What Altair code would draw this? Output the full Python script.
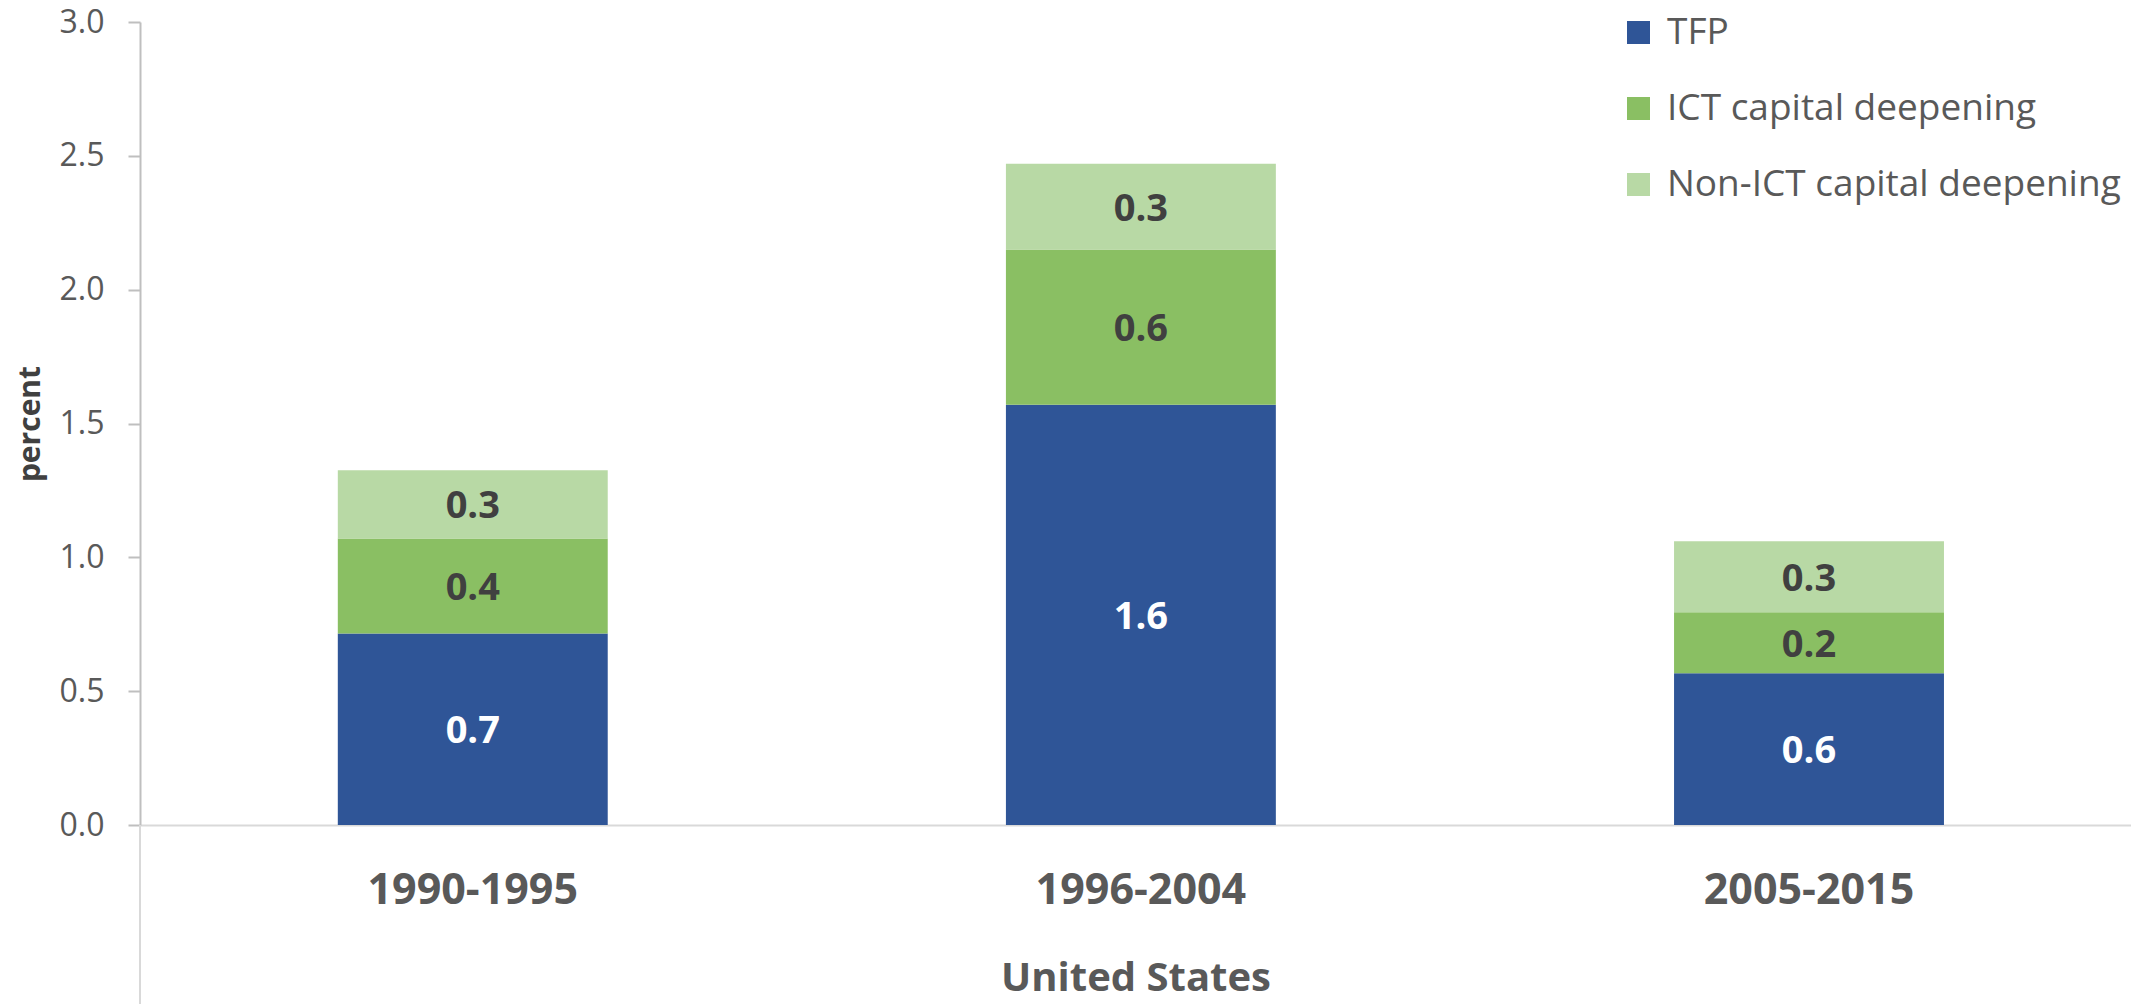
import altair as alt
import pandas as pd

periods = ["1990-1995", "1996-2004", "2005-2015"]
components = ["TFP", "ICT capital deepening", "Non-ICT capital deepening"]
colors = ["#2F5597", "#8ABF63", "#B8D9A5"]
tfp = [0.715, 1.57, 0.567]
ict = [0.355, 0.58, 0.228]
non_ict = [0.255, 0.32, 0.265]
y_ticks = [0.0, 0.5, 1.0, 1.5, 2.0, 2.5, 3.0]

rows = []
for i, p in enumerate(periods):
    for k, (c, vals) in enumerate(zip(components, [tfp, ict, non_ict])):
        rows.append({"period": p, "component": c, "value": vals[i], "ord": k})
df = pd.DataFrame(rows)

FONT = "Open Sans"
GREY = "#595959"

xscale = alt.Scale(domain=periods, paddingInner=0.596, paddingOuter=0.288, align=0.514)
yscale = alt.Scale(domain=[0, 3], nice=False, zero=True)

base = alt.Chart(df)

bars = base.mark_bar().encode(
    x=alt.X("period:N", sort=periods, scale=xscale,
            axis=alt.Axis(title="United States", labelAngle=0, labelFont=FONT,
                          labelFontSize=43, labelFontWeight="bold", labelColor=GREY,
                          labelPadding=44, labelLimit=600, ticks=False,
                          domainColor="#d9d9d9", domainWidth=2, titleFont=FONT,
                          titleFontSize=40, titleFontWeight="bold", titleColor=GREY,
                          titlePadding=46)),
    y=alt.Y("value:Q", stack="zero", scale=yscale,
            axis=alt.Axis(title="percent", values=y_ticks, format=".1f", grid=False,
                          labelFont=FONT, labelFontSize=32, labelColor=GREY,
                          labelPadding=24, tickSize=12, tickColor="#bfbfbf",
                          tickWidth=2, domainColor="#bfbfbf", domainWidth=2,
                          titleFont=FONT, titleFontSize=30, titleFontWeight="bold",
                          titleColor="#404040", titlePadding=14)),
    color=alt.Color("component:N", scale=alt.Scale(domain=components, range=colors),
                    legend=alt.Legend(title=None, orient="none", legendX=1480, legendY=-8,
                                      symbolType="square", symbolSize=529,
                                      symbolStrokeWidth=0, labelFont=FONT,
                                      labelFontSize=37, labelColor=GREY, labelOffset=10,
                                      rowPadding=38, labelLimit=700)),
    order=alt.Order("ord:Q", sort="ascending"),
)

labels = base.transform_stack(
    stack="value", groupby=["period"], as_=["v0", "v1"],
    sort=[alt.SortField("ord", "ascending")],
).transform_calculate(
    mid="(datum.v0 + datum.v1) / 2",
    lbl="format(datum.value, '.1f')",
    tc="datum.component === 'TFP' ? '#ffffff' : '#404040'",
).mark_text(font=FONT, fontSize=38, fontWeight="bold", baseline="middle", dy=3).encode(
    x=alt.X("period:N", sort=periods, scale=xscale),
    y=alt.Y("mid:Q", scale=yscale),
    text="lbl:N",
    color=alt.Color("tc:N", scale=None),
)

sep = alt.Chart(pd.DataFrame({"a": [0]})).mark_rule(color="#d9d9d9", strokeWidth=2).encode(
    x=alt.value(0), y=alt.value(803), y2=alt.value(990)
)

chart = alt.layer(bars, labels, sep).resolve_scale(color="independent").properties(
    width=1991, height=803,
    autosize=alt.AutoSizeParams(type="none"),
    padding={"left": 140, "top": 22, "right": 0, "bottom": 179},
    background="white",
).configure_view(stroke=None)

chart.save("out.html", embed_options={"renderer": "svg", "actions": False})
